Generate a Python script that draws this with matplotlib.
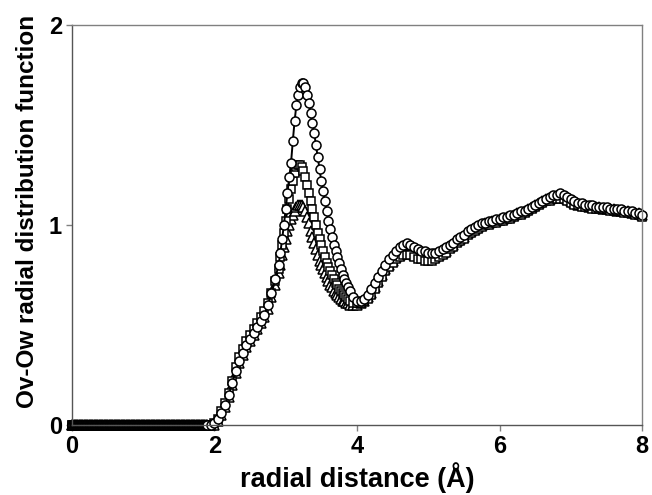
import matplotlib
matplotlib.use("Agg")
import matplotlib.pyplot as plt
import numpy as np

plt.rcParams['font.family'] = ['Liberation Sans', 'DejaVu Sans']
plt.rcParams['font.weight'] = 'bold'

# sampling grid (Angstrom): dense flat part, finer through the first peak
r_zero = np.round(np.arange(0.0, 1.891, 0.01), 3)
r_rise = np.round(np.arange(1.90, 2.851, 0.05), 3)
r_peak = np.round(np.arange(2.90, 3.876, 0.025), 3)
r_tail = np.round(np.arange(3.90, 8.001, 0.05), 3)
r = np.concatenate([r_zero, r_rise, r_peak, r_tail])

g_zero = [0.0] * len(r_zero)

# series 1 (circles)
g_circ = g_zero + [
    0.00, 0.00, 0.01, 0.03, 0.06, 0.10, 0.15, 0.21, 0.27, 0.32,
    0.36, 0.40, 0.43, 0.46, 0.49, 0.52, 0.55, 0.60, 0.66, 0.73,
    # peak
    0.80, 0.86, 0.93, 1.00, 1.08, 1.16, 1.24, 1.31, 1.42, 1.52,
    1.60, 1.65, 1.69, 1.71, 1.71, 1.69, 1.65, 1.61, 1.56, 1.51,
    1.46, 1.40, 1.34, 1.28, 1.22, 1.17, 1.12, 1.07, 1.02, 0.98,
    0.94, 0.90, 0.87, 0.84, 0.81, 0.78, 0.75, 0.73, 0.71, 0.69,
    # tail
    0.67, 0.64,
    0.62, 0.62, 0.63, 0.65, 0.68, 0.71, 0.74, 0.77, 0.80, 0.83,
    0.85, 0.87, 0.89, 0.90, 0.91, 0.90, 0.89, 0.88, 0.87, 0.87,
    0.86, 0.86, 0.86, 0.87, 0.88, 0.89, 0.90, 0.91, 0.93, 0.94,
    0.95, 0.97, 0.98, 0.99, 1.00, 1.01, 1.01, 1.02, 1.02, 1.03,
    1.03, 1.04, 1.04, 1.05, 1.05, 1.06, 1.07, 1.07, 1.08, 1.09,
    1.10, 1.11, 1.12, 1.13, 1.14, 1.15, 1.15, 1.16, 1.15, 1.14,
    1.13, 1.12, 1.11, 1.11, 1.10, 1.10, 1.10, 1.09, 1.09, 1.09,
    1.09, 1.08, 1.08, 1.08, 1.08, 1.07, 1.07, 1.07, 1.06, 1.06,
    1.05]

# series 2 (squares)
g_sq = g_zero + [
    0.00, 0.00, 0.01, 0.03, 0.07, 0.11, 0.16, 0.22, 0.29, 0.34,
    0.38, 0.42, 0.45, 0.48, 0.51, 0.54, 0.57, 0.61, 0.66, 0.72,
    0.78, 0.84, 0.90, 0.96, 1.02, 1.08, 1.13, 1.18, 1.22, 1.26,
    1.29, 1.30, 1.30, 1.29, 1.27, 1.24, 1.20, 1.16, 1.12, 1.08,
    1.04, 1.00, 0.96, 0.93, 0.90, 0.87, 0.84, 0.81, 0.79, 0.77,
    0.75, 0.73, 0.71, 0.70, 0.68, 0.67, 0.66, 0.65, 0.64, 0.63,
    0.62, 0.61,
    0.61, 0.61, 0.62, 0.63, 0.65, 0.68, 0.71, 0.74, 0.77, 0.79,
    0.81, 0.83, 0.84, 0.85, 0.85, 0.85, 0.84, 0.83, 0.83, 0.82,
    0.82, 0.82, 0.83, 0.84, 0.85, 0.86, 0.88, 0.89, 0.91, 0.92,
    0.93, 0.95, 0.96, 0.97, 0.98, 0.99, 1.00, 1.00, 1.01, 1.01,
    1.02, 1.02, 1.03, 1.03, 1.04, 1.05, 1.05, 1.06, 1.07, 1.08,
    1.09, 1.10, 1.11, 1.12, 1.12, 1.13, 1.13, 1.13, 1.13, 1.12,
    1.11, 1.10, 1.10, 1.09, 1.09, 1.09, 1.08, 1.08, 1.08, 1.08,
    1.08, 1.07, 1.07, 1.07, 1.07, 1.06, 1.06, 1.06, 1.05, 1.05,
    1.04]

# series 3 (triangles)
g_tri = g_zero + [
    0.00, 0.00, 0.00, 0.02, 0.05, 0.09, 0.14, 0.20, 0.26, 0.31,
    0.35, 0.39, 0.42, 0.45, 0.48, 0.51, 0.54, 0.58, 0.64, 0.70,
    0.76, 0.80, 0.85, 0.89, 0.93, 0.97, 1.00, 1.03, 1.05, 1.07,
    1.09, 1.10, 1.10, 1.10, 1.09, 1.07, 1.04, 1.01, 0.97, 0.94,
    0.91, 0.88, 0.85, 0.82, 0.80, 0.78, 0.76, 0.74, 0.72, 0.70,
    0.69, 0.67, 0.66, 0.65, 0.64, 0.63, 0.62, 0.62, 0.61, 0.61,
    0.60, 0.60,
    0.60, 0.61, 0.62, 0.64, 0.66, 0.69, 0.72, 0.75, 0.78, 0.80,
    0.82, 0.84, 0.85, 0.86, 0.86, 0.86, 0.85, 0.85, 0.84, 0.84,
    0.84, 0.84, 0.84, 0.85, 0.86, 0.87, 0.89, 0.90, 0.92, 0.93,
    0.94, 0.96, 0.97, 0.98, 0.99, 1.00, 1.01, 1.01, 1.02, 1.02,
    1.03, 1.03, 1.04, 1.04, 1.05, 1.06, 1.06, 1.07, 1.08, 1.09,
    1.10, 1.11, 1.12, 1.13, 1.13, 1.14, 1.14, 1.14, 1.14, 1.13,
    1.12, 1.11, 1.10, 1.10, 1.10, 1.09, 1.09, 1.09, 1.09, 1.08,
    1.08, 1.08, 1.08, 1.07, 1.07, 1.07, 1.07, 1.06, 1.06, 1.06,
    1.05]

fig = plt.figure(figsize=(6.52, 4.95), dpi=100)
ax = fig.add_axes([0.110, 0.141, 0.875, 0.808])

style = dict(color='black', lw=1.4, mfc='white', mec='black', mew=1.1,
             clip_on=False)
ax.plot(r, g_tri, marker='^', ms=6.5, **style)
ax.plot(r, g_sq, marker='s', ms=6.0, **style)
ax.plot(r, g_circ, marker='o', ms=6.5, **style)

ax.set_xlim(0, 8)
ax.set_ylim(0, 2)
ax.set_xticks([0, 2, 4, 6, 8])
ax.set_yticks([0, 1, 2])
for s in ax.spines.values():
    s.set_color('#808080')
    s.set_linewidth(1.0)
ax.spines['left'].set_color('#555555')
ax.spines['bottom'].set_color('#555555')
ax.tick_params(direction='out', length=4, width=1, color='#808080',
               labelsize=17, pad=3)

ax.set_xlabel('radial distance (Å)', fontsize=19.5, fontweight='bold')
ax.set_ylabel('Ov-Ow radial distribution function', fontsize=17.5,
              fontweight='bold')
ax.xaxis.set_label_coords(0.5, -0.092)
ax.yaxis.set_label_coords(-0.057, 0.535)

fig.savefig('out.png', dpi=100)
